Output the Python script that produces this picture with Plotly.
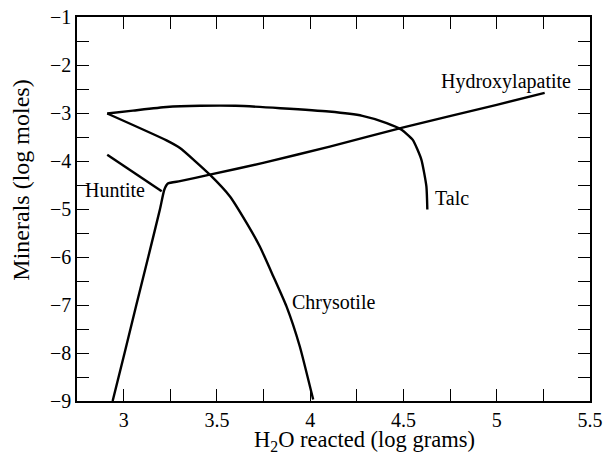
import plotly.graph_objects as go

# Mineral abundance (log moles) along the reaction path (log grams H2O)
talc_x = [2.912, 3.05, 3.23, 3.41, 3.60, 3.84, 4.10, 4.28, 4.41, 4.49, 4.55, 4.596, 4.623, 4.628]
talc_y = [-3.01, -2.95, -2.875, -2.85, -2.85, -2.90, -2.97, -3.06, -3.21, -3.35, -3.56, -3.97, -4.53, -5.01]

chrysotile_x = [2.912, 3.23, 3.302, 3.462, 3.570, 3.659, 3.730, 3.802, 3.873, 3.944, 4.016]
chrysotile_y = [-3.01, -3.57, -3.73, -4.285, -4.74, -5.29, -5.78, -6.40, -7.03, -7.86, -8.97]

huntite_x = [2.912, 3.204]
huntite_y = [-3.87, -4.63]

hydroxylapatite_x = [2.941, 3.005, 3.068, 3.132, 3.195, 3.218, 3.237, 3.302, 3.462, 3.748, 4.105, 4.50, 5.00, 5.257]
hydroxylapatite_y = [-9.0, -8.0, -7.0, -6.0, -5.0, -4.6, -4.47, -4.42, -4.285, -4.04, -3.70, -3.30, -2.83, -2.58]

label_text = ["Huntite", "Chrysotile", "Talc", "Hydroxylapatite"]
label_x = [2.954, 4.124, 4.761, 5.051]
label_y = [-4.6, -6.95, -4.77, -2.34]

x_ticks = [3, 3.5, 4, 4.5, 5, 5.5]
x_tick_text = ["3", "3.5", "4", "4.5", "5", "5.5"]
y_ticks = [-1, -2, -3, -4, -5, -6, -7, -8, -9]

x_title = "H<sub>2</sub>O reacted (log grams)"
y_title = "Minerals (log moles)"

FONT = "Liberation Serif"
line_style = dict(color="black", width=2.4)

fig = go.Figure()
for xs, ys, name in [
    (talc_x, talc_y, "Talc"),
    (chrysotile_x, chrysotile_y, "Chrysotile"),
    (huntite_x, huntite_y, "Huntite"),
    (hydroxylapatite_x, hydroxylapatite_y, "Hydroxylapatite"),
]:
    fig.add_trace(go.Scatter(x=xs, y=ys, mode="lines", name=name,
                             line=dict(shape="spline", smoothing=0.5, **line_style)))

for t, x, y in zip(label_text, label_x, label_y):
    fig.add_annotation(x=x, y=y, text=t, showarrow=False, xanchor="center", yanchor="middle",
                       borderpad=0, font=dict(family=FONT, size=20, color="black"))

# Axis titles placed as paper-anchored annotations
fig.add_annotation(xref="paper", yref="paper", x=0.561, y=-0.105, text=x_title,
                   showarrow=False, xanchor="center", yanchor="middle", borderpad=0,
                   font=dict(family=FONT, size=22.5, color="black"))
fig.add_annotation(xref="paper", yref="paper", x=-0.109, y=0.574, text=y_title,
                   showarrow=False, xanchor="center", yanchor="middle", textangle=-90,
                   borderpad=0, font=dict(family=FONT, size=24, color="black"))

axis_common = dict(
    showline=True, linecolor="black", linewidth=1.5, mirror="ticks",
    ticks="inside", ticklen=12, tickwidth=1.2, tickcolor="black",
    showgrid=False, zeroline=False, automargin=False,
    tickfont=dict(family=FONT, size=20, color="black"),
)

fig.update_xaxes(
    range=[2.75, 5.5], tickvals=x_ticks, ticktext=x_tick_text,
    minor=dict(tickvals=[2.75, 3.25, 3.75, 4.25, 4.75, 5.25], ticks="inside",
               ticklen=12, tickwidth=1.2, tickcolor="black"),
    **axis_common,
)
fig.update_yaxes(
    range=[-9, -1], tickvals=y_ticks,
    minor=dict(dtick=0.5, ticks="inside", ticklen=12, tickwidth=1.2, tickcolor="black"),
    **axis_common,
)

fig.update_layout(
    width=606, height=454,
    margin=dict(l=77, r=16, t=17, b=53),
    plot_bgcolor="white", paper_bgcolor="white",
    showlegend=False,
    font=dict(family=FONT, color="black"),
)

fig.write_html("out.html")
